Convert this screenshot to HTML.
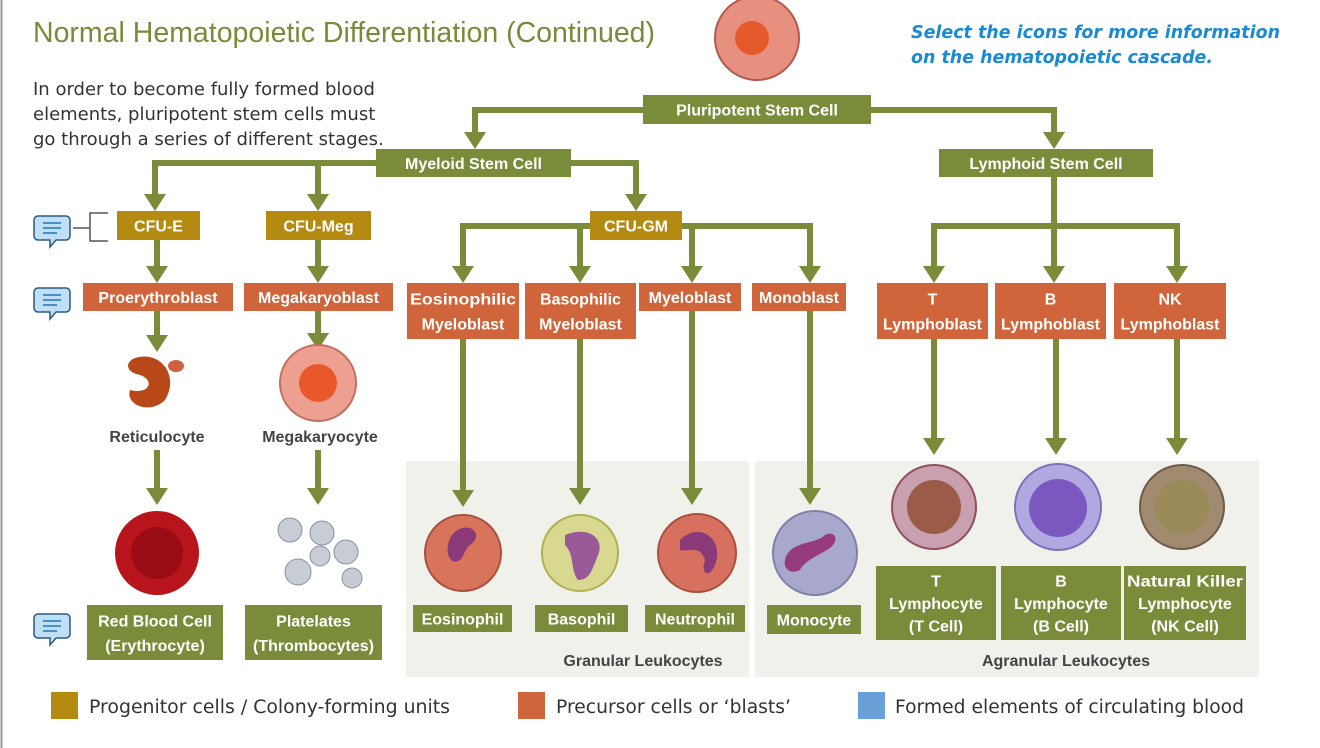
<!DOCTYPE html>
<html><head><meta charset="utf-8"><style>
body{margin:0;background:#fff;width:1320px;height:748px;overflow:hidden;font-family:"Liberation Sans",sans-serif}
svg{position:absolute;left:0;top:0}
.bt{font:bold 16px "Liberation Sans",sans-serif;fill:#fff;text-anchor:middle}
.lbl{font:bold 16px "Liberation Sans",sans-serif;fill:#444;text-anchor:middle}
</style></head><body>
<svg width="1320" height="748">
<line x1="1.5" y1="0" x2="1.5" y2="748" stroke="#999" stroke-width="2"/>
<text x="33" y="42" font-size="28.5" fill="#7a8a3a">Normal Hematopoietic Differentiation (Continued)</text>
<g font-size="18" fill="#333" font-family="DejaVu Sans, sans-serif">
<text x="33" y="95">In order to become fully formed blood</text>
<text x="33" y="120">elements, pluripotent stem cells must</text>
<text x="33" y="145">go through a series of different stages.</text></g>
<g font-size="17.5" font-weight="bold" font-style="italic" fill="#1a8ad4" font-family="DejaVu Sans, sans-serif">
<text x="911" y="38" textLength="369" lengthAdjust="spacingAndGlyphs">Select the icons for more information</text>
<text x="911" y="63" textLength="302" lengthAdjust="spacingAndGlyphs">on the hematopoietic cascade.</text></g>
<rect x="406" y="461" width="343" height="216" fill="#eff1ea"/>
<rect x="755" y="461" width="504" height="216" fill="#eff1ea"/>
<text x="643" y="666" class="lbl">Granular Leukocytes</text>
<text x="1066" y="666" class="lbl">Agranular Leukocytes</text>
<g id="lines" stroke="#7a8c3a" stroke-width="6" fill="none">
<polyline points="475,133 475,110 1054,110 1054,133"/>
<polyline points="155,195 155,163 636,163 636,195"/>
<line x1="318" y1="163" x2="318" y2="195"/>
<polyline points="463,267 463,226 810,226 810,267"/>
<line x1="580" y1="226" x2="580" y2="267"/>
<line x1="692" y1="226" x2="692" y2="267"/>
<line x1="1054" y1="177" x2="1054" y2="267"/>
<polyline points="934,267 934,226 1177,226 1177,267"/>
<line x1="157" y1="240" x2="157" y2="267"/><line x1="318" y1="240" x2="318" y2="267"/>
<line x1="157" y1="311" x2="157" y2="336"/><line x1="318" y1="311" x2="318" y2="334"/>
<line x1="157" y1="450" x2="157" y2="489"/><line x1="318" y1="450" x2="318" y2="489"/>
<line x1="463" y1="339" x2="463" y2="491"/><line x1="580" y1="339" x2="580" y2="489"/>
<line x1="692" y1="311" x2="692" y2="489"/><line x1="810" y1="311" x2="810" y2="489"/>
<line x1="934" y1="339" x2="934" y2="439"/><line x1="1056" y1="339" x2="1056" y2="439"/><line x1="1177" y1="339" x2="1177" y2="439"/>
</g>
<g fill="#7a8c3a" id="heads"></g>
<g id="boxes"></g>
<g><circle cx="757" cy="38" r="42" fill="#e89080" stroke="#b05a50" stroke-width="2"/><circle cx="752" cy="38" r="17" fill="#e55a2a"/></g>
<g><path d="M135,358 C160,350 180,375 165,400 C150,415 125,405 130,390 C150,395 155,380 140,375 C125,372 125,362 135,358Z" fill="#b84818"/><ellipse cx="176" cy="366" rx="8" ry="6" fill="#d06040"/></g>
<text x="157" y="442" class="lbl">Reticulocyte</text>
<g><circle cx="318" cy="383" r="38" fill="#eda090" stroke="#c07060" stroke-width="2"/><circle cx="318" cy="383" r="19" fill="#e8582a"/></g>
<text x="320" y="442" class="lbl">Megakaryocyte</text>
<g><circle cx="157" cy="553" r="42" fill="#b8141c"/><circle cx="157" cy="553" r="26" fill="#9a0c14"/></g>
<g fill="#c8ccd4" stroke="#8890a0"><circle cx="290" cy="530" r="12"/><circle cx="322" cy="533" r="12"/><circle cx="346" cy="552" r="12"/><circle cx="298" cy="572" r="13"/><circle cx="320" cy="556" r="10"/><circle cx="352" cy="578" r="10"/></g>
<g><circle cx="463" cy="553" r="38" fill="#d8745a" stroke="#a85040" stroke-width="2"/><path d="M455,532 C470,520 485,535 470,545 C462,552 465,560 455,562 C445,560 445,540 455,532Z" fill="#8a3a78"/></g>
<g><circle cx="580" cy="553" r="38" fill="#d8d890" stroke="#b0b050" stroke-width="2"/><path d="M565,535 C590,525 605,540 598,555 C592,570 590,580 578,580 C570,570 575,555 565,545Z" fill="#9a5a9a"/></g>
<g><circle cx="697" cy="553" r="39" fill="#d87060" stroke="#a85040" stroke-width="2"/><path d="M680,540 C700,520 725,540 715,565 C710,578 700,575 705,560 C700,545 690,552 680,550Z" fill="#8a3a78"/></g>
<g><circle cx="815" cy="553" r="42" fill="#a8a8cc" stroke="#8080a8" stroke-width="2"/><path d="M785,560 C790,540 815,545 825,535 C835,530 840,540 830,548 C820,555 805,560 800,570 C790,575 783,568 785,560Z" fill="#963a80"/></g>
<g><circle cx="934" cy="507" r="42" fill="#c8a0b0" stroke="#905060" stroke-width="2"/><circle cx="934" cy="507" r="27" fill="#9c5a48"/></g>
<g><circle cx="1058" cy="507" r="43" fill="#b0a8e0" stroke="#8070b8" stroke-width="2"/><circle cx="1058" cy="508" r="29" fill="#7a58c0"/></g>
<g><circle cx="1182" cy="507" r="42" fill="#a08a70" stroke="#705a48" stroke-width="2"/><circle cx="1182" cy="507" r="27" fill="#9a8a58"/></g>
<g id="icons"></g>
<polyline points="73,228 90,228" stroke="#555" stroke-width="1.5" fill="none"/>
<polyline points="108,213 90,213 90,241 108,241" stroke="#555" stroke-width="1.5" fill="none"/>
<g font-size="18.5" fill="#333" font-family="DejaVu Sans, sans-serif">
<rect x="51" y="692" width="27" height="27" fill="#b58a10"/>
<text x="89" y="713" textLength="361" lengthAdjust="spacingAndGlyphs">Progenitor cells / Colony-forming units</text>
<rect x="518" y="692" width="27" height="27" fill="#d0643a"/>
<text x="556" y="713" textLength="235" lengthAdjust="spacingAndGlyphs">Precursor cells or ‘blasts’</text>
<rect x="858" y="692" width="27" height="27" fill="#6aa0d8"/>
<text x="895" y="713" textLength="349" lengthAdjust="spacingAndGlyphs">Formed elements of circulating blood</text>
</g>
</svg>
<script>
const NS='http://www.w3.org/2000/svg';
const G='#7a8c3a',Y='#b58a10',O='#d0643a';
const boxes=[
['pluripotent-stem-cell',643,95,871,124,G,['Pluripotent Stem Cell']],
['myeloid-stem-cell',376,149,571,177,G,['Myeloid Stem Cell']],
['lymphoid-stem-cell',939,149,1153,177,G,['Lymphoid Stem Cell']],
['cfu-e',117,211,200,240,Y,['CFU-E']],
['cfu-meg',266,211,371,240,Y,['CFU-Meg']],
['cfu-gm',590,211,682,240,Y,['CFU-GM']],
['proerythroblast',83,283,233,311,O,['Proerythroblast']],
['megakaryoblast',244,283,393,311,O,['Megakaryoblast']],
['eosinophilic-myeloblast',407,283,519,339,O,['Eosinophilic','Myeloblast']],
['basophilic-myeloblast',525,283,636,339,O,['Basophilic','Myeloblast']],
['myeloblast',639,283,741,311,O,['Myeloblast']],
['monoblast',752,283,846,311,O,['Monoblast']],
['t-lymphoblast',877,283,988,339,O,['T','Lymphoblast']],
['b-lymphoblast',995,283,1106,339,O,['B','Lymphoblast']],
['nk-lymphoblast',1114,283,1226,339,O,['NK','Lymphoblast']],
['red-blood-cell',87,605,223,660,G,['Red Blood Cell','(Erythrocyte)']],
['platelates',245,605,382,660,G,['Platelates','(Thrombocytes)']],
['eosinophil',413,605,512,632,G,['Eosinophil']],
['basophil',535,605,628,632,G,['Basophil']],
['neutrophil',645,605,745,632,G,['Neutrophil']],
['monocyte',767,605,861,634,G,['Monocyte']],
['t-lymphocyte',876,566,996,640,G,['T','Lymphocyte','(T Cell)']],
['b-lymphocyte',1001,566,1121,640,G,['B','Lymphocyte','(B Cell)']],
['nk-lymphocyte',1124,566,1246,640,G,['Natural Killer','Lymphocyte','(NK Cell)']]];
const bg=document.getElementById('boxes');
boxes.forEach(b=>{const g=document.createElementNS(NS,'g');


const r=document.createElementNS(NS,'rect');r.setAttribute('x',b[1]);r.setAttribute('y',b[2]);r.setAttribute('width',b[3]-b[1]);r.setAttribute('height',b[4]-b[2]);r.setAttribute('fill',b[5]);g.appendChild(r);
const n=b[6].length,cx=(b[1]+b[3])/2,h=b[4]-b[2],lh=n>1?(h-6)/n:0;
b[6].forEach((t,i)=>{const tx=document.createElementNS(NS,'text');tx.setAttribute('class','bt');tx.setAttribute('x',cx);
const y=n==1?(b[2]+b[4])/2+6:b[2]+3+lh*(i+0.5)+6;tx.setAttribute('y',y);tx.textContent=t;
const w=b[3]-b[1]-6;if(t.length*8.9>w)tx.setAttribute('textLength',w),tx.setAttribute('lengthAdjust','spacingAndGlyphs');g.appendChild(tx);});
bg.appendChild(g);});
const heads=[[475,149],[1054,149],[155,211],[318,211],[636,211],[157,283],[318,283],[463,283],[580,283],[692,283],[810,283],[934,283],[1054,283],[1177,283],[157,352],[318,350],[157,505],[318,505],[463,507],[580,505],[692,505],[810,505],[934,455],[1056,455],[1177,455]];
const hg=document.getElementById('heads');
heads.forEach(h=>{const p=document.createElementNS(NS,'path');


p.setAttribute('d',`M${h[0]-11},${h[1]-17}L${h[0]+11},${h[1]-17}L${h[0]},${h[1]}Z`);hg.appendChild(p);});
const ig=document.getElementById('icons');
[[52,229],[52,301],[52,627]].forEach(c=>{const g=document.createElementNS(NS,'g');


g.innerHTML=`<path d="M${c[0]-14},${c[1]-13}h28a4,4 0 0 1 4,4v16a4,4 0 0 1 -4,4h-10l-6,7v-7h-12a4,4 0 0 1 -4,-4v-16a4,4 0 0 1 4,-4z" fill="#bfe0f4" stroke="#2a5a80" stroke-width="1.5"/><path d="M${c[0]-9},${c[1]-6}h18M${c[0]-9},${c[1]-1}h18M${c[0]-9},${c[1]+4}h14" stroke="#4a90c8" stroke-width="2"/>`;ig.appendChild(g);});
</script>
</body></html>
